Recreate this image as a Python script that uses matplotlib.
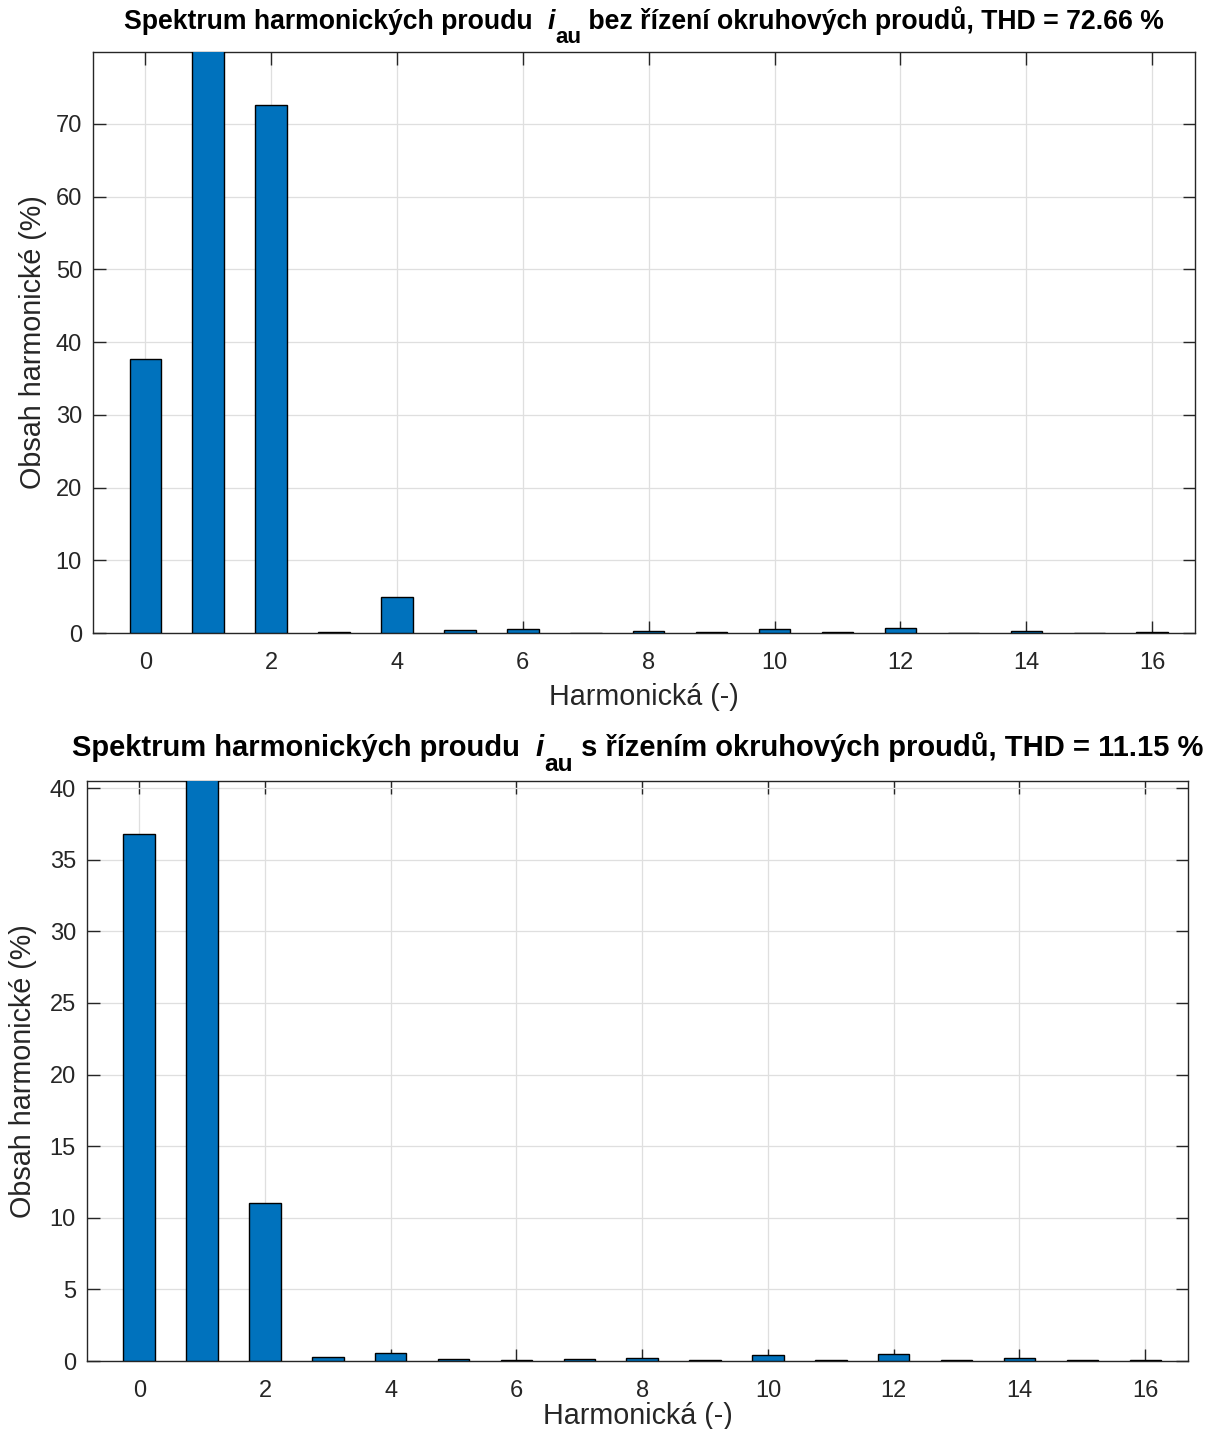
import matplotlib
matplotlib.use("Agg")
import matplotlib.pyplot as plt
import numpy as np

plt.rcParams['font.family'] = ['Liberation Sans', 'DejaVu Sans']

harmonics = list(range(17))
values_bez = [37.7, 100.0, 72.6, 0.12, 4.95, 0.35, 0.55, 0.05, 0.28, 0.12,
              0.55, 0.1, 0.62, 0.05, 0.32, 0.05, 0.18]
values_s = [36.8, 100.0, 11.0, 0.3, 0.58, 0.12, 0.07, 0.12, 0.23, 0.06,
            0.43, 0.04, 0.5, 0.07, 0.23, 0.06, 0.09]
title_bez = ('Spektrum harmonických proudu  ', 'i', 'au',
             ' bez řízení okruhových proudů, THD = 72.66 %')
title_s = ('Spektrum harmonických proudu  ', 'i', 'au',
           ' s řízením okruhových proudů, THD = 11.15 %')
xticks = list(range(0, 17, 2))

W, H = 1211, 1429
fig = plt.figure(figsize=(W / 100, H / 100), dpi=100)
renderer = fig.canvas.get_renderer()


def px_axes(l, r, t, b):
    return fig.add_axes([l / W, 1 - b / H, (r - l) / W, (b - t) / H])


def rich_title(parts, xc_px, base_px, fs, sub_scale=0.84, sub_drop=0.53):
    pre, sym, sub, post = parts
    specs = [(pre, fs, 'normal', 0), (sym, fs, 'italic', 0),
             (sub, fs * sub_scale, 'normal', sub_drop * fs * 100 / 72),
             (post, fs, 'normal', 0)]
    texts = []
    x = 0.0
    for s, size, style, drop in specs:
        t = fig.text(0, 0, s, fontsize=size, fontweight='bold', style=style,
                     ha='left', va='baseline', color='black')
        w = t.get_window_extent(renderer).width
        texts.append((t, x, drop))
        x += w
    total = x
    x0 = xc_px - total / 2
    for t, dx, drop in texts:
        t.set_position(((x0 + dx) / W, 1 - (base_px + drop) / H))


ax1 = px_axes(93, 1195, 52, 633)
ax2 = px_axes(87, 1188, 781, 1361)

col = '#262626'
for ax, vals, ylim, yt, xlp, ylp in [
        (ax1, values_bez, 79.9, range(0, 71, 10), 7, 6),
        (ax2, values_s, 40.5, range(0, 41, 5), 0.5, 9)]:
    ax.bar(harmonics, vals, width=0.5, color='#0072BD', edgecolor='black',
           linewidth=1.0, zorder=3)
    ax.set_xlim(-0.83, 16.68)
    ax.set_ylim(0, ylim)
    ax.set_xticks(xticks)
    ax.set_yticks(list(yt))
    ax.grid(True, color='#dfdfdf', linewidth=0.9, zorder=0)
    ax.set_axisbelow(True)
    ax.tick_params(direction='in', length=9, width=1, colors=col,
                   labelsize=17, top=True, right=True, pad=8)
    ax.tick_params(axis='x', pad=13.5)
    for s in ax.spines.values():
        s.set_color(col)
        s.set_linewidth(1)
    ax.set_xlabel('Harmonická (-)', fontsize=20.7, color=col, labelpad=xlp)
    ax.set_ylabel('Obsah harmonické (%)', fontsize=20.7, color=col, labelpad=ylp)

rich_title(title_bez, 644, 29, 19.2)
rich_title(title_s, 637.5, 756, 21.0)

fig.savefig('out.png', dpi=100)
